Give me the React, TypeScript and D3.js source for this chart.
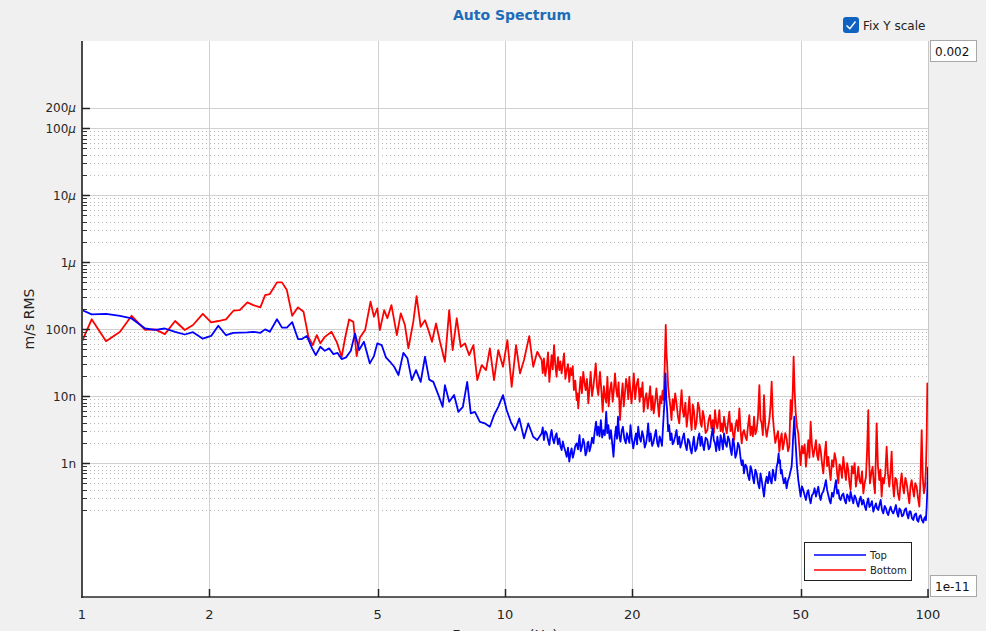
import React from "react";
import * as d3 from "d3";

// Frequencies in Hz, amplitudes in nm/s (m/s RMS × 1e9)
const topA: [number, number][] = [
  [1.0, 192], [1.054, 166], [1.14, 169], [1.23, 158], [1.31, 144], [1.41, 102], [1.49, 97], [1.57, 102],
  [1.66, 91], [1.75, 83], [1.83, 90], [1.93, 72], [2.02, 79], [2.1, 112], [2.19, 81], [2.28, 88],
  [2.46, 89], [2.54, 91], [2.64, 88], [2.71, 99], [2.78, 91], [2.89, 140], [2.97, 105], [3.05, 105],
  [3.14, 127], [3.24, 71], [3.31, 71], [3.4, 79], [3.5, 51.5], [3.57, 40.9], [3.66, 54.4], [3.75, 47.4],
  [3.84, 51.5], [3.93, 42.3], [4.02, 44.1], [4.11, 35.7], [4.21, 37.8], [4.32, 47.4], [4.42, 86.2],
  [4.52, 48.6], [4.64, 64.6], [4.79, 30.8], [4.9, 39.5], [4.99, 61.2], [5.11, 57.7], [5.23, 37.8],
  [5.35, 32.5], [5.47, 27.4], [5.6, 20.6], [5.75, 44.1], [5.88, 36.6], [6.02, 17.3], [6.16, 24.4],
  [6.32, 16.3], [6.47, 38.6], [6.62, 17.6], [6.77, 16.3], [6.96, 10.35], [7.12, 6.91], [7.21, 14.5],
  [7.38, 8.2], [7.58, 10.35], [7.76, 5.8], [7.95, 6.9], [8.14, 16.3], [8.3, 5.5], [8.49, 5.8],
  [8.72, 4.13], [8.97, 3.9], [9.21, 3.48], [9.42, 5.2], [9.64, 6.9], [9.89, 10.35], [10.09, 6.18],
  [10.32, 4.13], [10.56, 3.1], [10.81, 4.64], [11.09, 2.34], [11.35, 3.9], [11.66, 2.47], [11.92, 2.2],
];
const topB: [number, number][] = [
  [12.21, 2.78], [12.28, 3.4], [12.36, 2.2], [12.45, 3.0], [12.55, 2.78], [12.64, 2.2], [12.73, 1.86], [12.81, 2.6],
  [12.89, 3.11], [12.97, 2.3], [13.06, 1.97], [13.15, 2.5], [13.24, 2.78], [13.34, 1.9], [13.44, 2.34], [13.52, 1.8],
  [13.61, 1.56], [13.7, 2.1], [13.79, 1.75], [13.89, 1.5], [13.99, 1.24], [14.09, 1.7], [14.19, 1.05], [14.28, 1.4],
  [14.37, 1.66], [14.46, 1.2], [14.55, 1.39], [14.66, 1.8], [14.77, 1.97], [14.88, 1.6], [15.0, 2.62], [15.1, 1.5],
  [15.2, 1.75], [15.3, 2.3], [15.4, 1.97], [15.5, 1.3], [15.6, 1.47], [15.67, 2.0], [15.74, 2.08], [15.84, 1.5],
  [15.94, 1.75], [16.06, 2.4], [16.18, 1.97], [16.3, 3.0], [16.42, 4.14], [16.52, 2.6], [16.62, 3.48], [16.73, 2.5],
  [16.85, 4.38], [16.97, 2.4], [17.1, 3.11], [17.22, 2.6], [17.35, 5.83], [17.45, 2.8], [17.55, 3.69], [17.68, 2.3],
  [17.8, 3.11], [17.92, 2.0], [18.05, 1.24], [18.17, 2.4], [18.3, 3.48], [18.4, 2.3], [18.5, 4.91], [18.62, 2.6],
  [18.75, 2.08], [18.87, 3.0], [19.0, 3.48], [19.15, 2.3], [19.3, 1.97], [19.42, 2.8], [19.55, 2.34], [19.68, 2.0],
  [19.8, 3.69], [19.95, 2.3], [20.1, 1.66], [20.25, 2.2], [20.4, 2.78], [20.52, 1.9], [20.65, 3.48], [20.8, 2.4],
  [20.95, 2.08], [21.1, 3.0], [21.25, 2.47], [21.4, 1.7], [21.55, 1.97], [21.68, 2.6], [21.8, 3.91], [21.95, 2.1],
  [22.1, 2.78], [22.28, 1.8], [22.45, 2.08], [22.6, 2.6], [22.75, 3.11], [22.9, 2.0], [23.05, 1.75], [23.2, 2.5],
  [23.35, 2.2], [23.5, 1.8], [23.65, 3.69], [23.8, 7.5], [23.95, 21.8], [24.06, 9], [24.17, 6.18], [24.3, 3.0],
  [24.44, 3.69], [24.6, 2.2], [24.75, 2.78], [24.91, 1.9], [25.07, 2.08], [25.25, 2.5], [25.44, 3.11], [25.63, 1.9],
  [25.82, 2.47], [25.98, 1.7], [26.15, 1.97], [26.32, 2.4], [26.49, 2.78], [26.69, 1.9], [26.89, 1.56], [27.08, 2.3],
  [27.28, 2.08], [27.45, 1.6], [27.62, 1.39], [27.79, 1.9], [27.96, 2.47], [28.17, 1.5], [28.38, 1.66], [28.59, 2.3],
  [28.8, 2.78], [28.98, 1.8], [29.17, 2.47], [29.35, 1.9], [29.54, 1.56], [29.8, 2.4],
];
const topC: [number, number][] = [
  [30.09, 2.2], [30.31, 1.6], [30.53, 1.75], [30.75, 2.5], [30.97, 3.29], [31.17, 2.2], [31.37, 1.97], [31.57, 1.5],
  [31.77, 2.47], [31.95, 1.9], [32.12, 1.56], [32.33, 2.6], [32.53, 2.2], [32.74, 1.6], [32.95, 2.77], [33.19, 2.0],
  [33.43, 1.75], [33.67, 2.5], [33.91, 2.2], [34.13, 1.6], [34.35, 1.32], [34.57, 2.3], [34.79, 1.97], [35.04, 1.2],
  [35.29, 1.39], [35.55, 2.0], [35.81, 1.75], [36.04, 1.2], [36.27, 0.93], [36.5, 1.1], [36.73, 0.7], [37.0, 0.95],
  [37.27, 0.88], [37.54, 0.65], [37.81, 0.557], [38.05, 0.9], [38.3, 0.79], [38.55, 0.6], [38.79, 0.497], [39.07, 0.8],
  [39.35, 0.7], [39.64, 0.5], [39.93, 0.419], [40.18, 0.7], [40.44, 0.557], [40.7, 0.42], [40.95, 0.315], [41.25, 0.5],
  [41.55, 0.625], [41.85, 0.5], [42.16, 0.74], [42.43, 0.55], [42.7, 0.497], [42.97, 0.8], [43.24, 0.66], [43.55, 0.55],
  [43.87, 0.88], [44.1, 1.0], [44.35, 1.39], [44.51, 1.0], [44.67, 1.11], [44.88, 0.7], [45.09, 0.79], [45.37, 0.6],
  [45.65, 0.497], [45.98, 0.6], [46.32, 0.419], [46.66, 0.55], [47.0, 0.625], [47.3, 0.75], [47.6, 0.88], [47.78, 1.3],
  [47.95, 2.2], [48.12, 3.2], [48.3, 4.91], [48.47, 3.0], [48.65, 1.97], [49.0, 0.9], [49.36, 0.557], [49.68, 0.42],
  [49.99, 0.315], [50.35, 0.45], [50.72, 0.395], [51.09, 0.33], [51.46, 0.281], [51.79, 0.36], [52.12, 0.395], [52.45, 0.3],
  [52.79, 0.25], [53.17, 0.33], [53.56, 0.352], [53.95, 0.42], [54.34, 0.315], [54.69, 0.38], [55.04, 0.443], [55.39, 0.33],
  [55.74, 0.281], [56.15, 0.35], [56.55, 0.373], [56.96, 0.45], [57.38, 0.557], [57.74, 0.4], [58.11, 0.333], [58.48, 0.28],
  [58.86, 0.25], [59.29, 0.36], [59.72, 0.315], [60.15, 0.42], [60.59, 0.557], [60.98, 0.35], [61.37, 0.395], [61.76, 0.3],
  [62.15, 0.281], [62.6, 0.33], [63.06, 0.352], [63.52, 0.28], [63.98, 0.25], [64.39, 0.34], [64.8, 0.315], [65.21, 0.27],
  [65.62, 0.373], [66.1, 0.3], [66.58, 0.25], [67.06, 0.33], [67.55, 0.297], [67.99, 0.25], [68.43, 0.223], [68.87, 0.28],
  [69.32, 0.315], [69.83, 0.24], [70.34, 0.281], [70.84, 0.23], [71.34, 0.199], [71.8, 0.26], [72.25, 0.297], [72.7, 0.22],
  [73.18, 0.236], [73.7, 0.27], [74.25, 0.188], [74.8, 0.22], [75.34, 0.25], [75.8, 0.21], [76.3, 0.199], [76.8, 0.24],
  [77.28, 0.281], [77.85, 0.2], [78.41, 0.177], [79.0, 0.23], [79.55, 0.211], [80.05, 0.18], [80.56, 0.167], [81.07, 0.2],
  [81.59, 0.223], [82.18, 0.19], [82.78, 0.177], [83.38, 0.2], [83.99, 0.236], [84.52, 0.18], [85.06, 0.158], [85.6, 0.21],
  [86.16, 0.199], [86.8, 0.16], [87.42, 0.167], [88.06, 0.2], [88.7, 0.211], [89.27, 0.17], [89.84, 0.149], [90.42, 0.19],
  [90.99, 0.188], [91.65, 0.15], [92.32, 0.141], [93.0, 0.17], [93.67, 0.177], [94.27, 0.14], [94.87, 0.133], [95.47, 0.16],
  [96.08, 0.167], [96.78, 0.14], [97.49, 0.129], [98.0, 0.15], [98.55, 0.158], [98.9, 0.14], [99.28, 0.223], [99.64, 0.4],
  [100.0, 0.88],
];

const bottomA: [number, number][] = [
  [1.0, 65], [1.054, 140], [1.14, 66], [1.23, 91], [1.31, 158], [1.41, 97], [1.49, 99], [1.57, 84],
  [1.66, 132], [1.75, 97], [1.83, 115], [1.93, 169], [2.02, 126], [2.1, 132], [2.19, 140], [2.28, 188],
  [2.36, 192], [2.46, 250], [2.54, 228], [2.64, 211], [2.71, 322], [2.78, 333], [2.89, 498], [2.97, 498],
  [3.05, 382], [3.14, 158], [3.24, 211], [3.34, 181], [3.43, 76.5], [3.51, 57.7], [3.59, 81.3], [3.66, 61.2],
  [3.75, 76.5], [3.89, 91], [4.0, 64.6], [4.11, 38.6], [4.19, 74.9], [4.28, 139], [4.38, 128], [4.46, 39.5],
  [4.54, 74.9], [4.67, 96.6], [4.81, 256], [4.9, 153], [4.99, 204], [5.06, 96.6], [5.18, 192], [5.27, 145],
  [5.39, 228], [5.55, 81.3], [5.67, 172], [5.8, 115], [5.91, 51.5], [6.07, 128], [6.18, 311], [6.32, 108],
  [6.47, 136], [6.59, 96.6], [6.72, 64.6], [6.87, 121], [7.02, 64.6], [7.21, 32.5], [7.38, 192], [7.52, 48.6],
  [7.69, 145], [7.86, 54.4], [8.04, 61.2], [8.23, 40.9], [8.42, 57.7], [8.6, 17.3], [8.81, 29], [9.02, 24.4],
  [9.21, 51.5], [9.42, 17.3], [9.64, 48.6], [9.89, 27.4], [10.13, 68.5], [10.37, 13.7], [10.62, 57.7],
  [10.85, 21.8], [11.09, 34.5], [11.41, 78.6], [11.66, 27.4], [11.92, 45.8],
];
const bottomB: [number, number][] = [
  [12.21, 34.5], [12.28, 22], [12.36, 36.6], [12.45, 20], [12.55, 27.4], [12.64, 45], [12.73, 16.3], [12.81, 26],
  [12.89, 40.9], [12.97, 25], [13.06, 57.7], [13.15, 30], [13.24, 19.4], [13.34, 38], [13.44, 24.4], [13.52, 33],
  [13.61, 21.8], [13.7, 30], [13.79, 43.4], [13.89, 18], [13.99, 24.4], [14.09, 30], [14.19, 16.3], [14.28, 26],
  [14.37, 20.6], [14.46, 28], [14.55, 12.3], [14.66, 17], [14.77, 8.71], [14.83, 11], [14.9, 6.55], [15.0, 12],
  [15.09, 19.4], [15.2, 11], [15.31, 23.0], [15.41, 16], [15.51, 12.3], [15.62, 18], [15.74, 7.77], [15.84, 13],
  [15.94, 23.0], [16.06, 10], [16.18, 13.8], [16.28, 20], [16.39, 30.8], [16.5, 14], [16.62, 10.35], [16.7, 17],
  [16.77, 23.0], [16.9, 12], [17.02, 5.83], [17.13, 14], [17.24, 9.76], [17.35, 8], [17.46, 19.4], [17.58, 7],
  [17.71, 12.3], [17.84, 16], [17.97, 8.22], [18.08, 12], [18.2, 21.8], [18.31, 13], [18.43, 9.76], [18.56, 16],
  [18.7, 4.38], [18.83, 9], [18.97, 15.5], [19.09, 7], [19.21, 11.0], [19.33, 18], [19.46, 13.8], [19.56, 9],
  [19.67, 19.4], [19.79, 12], [19.91, 7.77], [20.03, 12], [20.16, 21.8], [20.31, 9], [20.46, 14.6], [20.63, 18],
  [20.81, 8.22], [20.91, 13], [21.01, 9.76], [21.14, 16], [21.28, 5.83], [21.43, 9], [21.59, 11.0], [21.75, 6.5],
  [21.91, 9.76], [22.04, 14], [22.18, 6.18], [22.32, 10], [22.47, 5.51], [22.63, 8], [22.8, 13.0], [22.96, 8],
  [23.13, 4.91], [23.28, 10], [23.43, 7.77], [23.58, 12], [23.73, 8.71], [23.86, 30], [23.99, 115], [24.08, 45],
  [24.17, 30.8], [24.3, 14], [24.44, 9.76], [24.6, 7], [24.75, 4.38], [24.91, 9], [25.07, 6.18], [25.25, 11],
  [25.44, 7.77], [25.63, 5], [25.82, 3.91], [25.98, 7], [26.15, 12.3], [26.32, 6], [26.49, 4.91], [26.69, 8],
  [26.89, 3.48], [27.08, 5.5], [27.28, 9.76], [27.45, 4.5], [27.62, 3.11], [27.79, 7.5], [27.96, 6.18], [28.17, 3.2],
  [28.38, 4.14], [28.59, 8], [28.8, 6.55], [28.98, 4], [29.17, 3.48], [29.35, 6], [29.54, 4.91], [29.8, 2.8],
];
const bottomC: [number, number][] = [
  [30.09, 3.11], [30.31, 4.5], [30.53, 5.2], [30.75, 3.3], [30.97, 4.38], [31.17, 2.8], [31.37, 6.18], [31.57, 4.0],
  [31.77, 3.29], [31.95, 4.5], [32.12, 6.18], [32.33, 3.0], [32.53, 3.91], [32.74, 2.9], [32.95, 4.91], [33.19, 3.5],
  [33.43, 2.77], [33.67, 4.0], [33.91, 5.84], [34.13, 3.0], [34.35, 3.91], [34.57, 2.8], [34.79, 2.2], [35.04, 3.5],
  [35.29, 4.38], [35.55, 3.0], [35.81, 6.55], [36.04, 3.2], [36.27, 1.97], [36.5, 2.8], [36.73, 3.11], [37.0, 2.5],
  [37.27, 2.2], [37.54, 3.6], [37.81, 5.2], [38.05, 2.6], [38.3, 3.48], [38.55, 2.5], [38.79, 4.91], [39.07, 2.7],
  [39.35, 3.11], [39.64, 5.0], [39.93, 14.6], [40.18, 4.5], [40.44, 3.91], [40.7, 2.6], [40.95, 10.3], [41.25, 3.5],
  [41.55, 2.47], [41.85, 3.3], [42.16, 4.38], [42.43, 7.0], [42.7, 16.4], [42.97, 5.0], [43.24, 3.11], [43.55, 2.0],
  [43.87, 2.47], [44.2, 3.0], [44.51, 1.48], [44.8, 2.2], [45.09, 2.77], [45.37, 1.6], [45.65, 1.97], [45.98, 2.8],
  [46.32, 2.33], [46.66, 1.5], [47.0, 1.75], [47.17, 4.0], [47.34, 8.72], [47.51, 4.5], [47.69, 5.84], [47.9, 12],
  [48.12, 38.6], [48.38, 12], [48.65, 5.84], [49.0, 3.5], [49.36, 2.77], [49.68, 1.6], [49.99, 0.93], [50.35, 1.8],
  [50.72, 1.39], [51.09, 1.9], [51.46, 0.88], [51.79, 1.4], [52.12, 2.2], [52.45, 1.2], [52.79, 4.14], [53.17, 1.8],
  [53.56, 1.24], [53.95, 1.6], [54.34, 2.2], [54.69, 1.3], [55.04, 1.11], [55.39, 1.9], [55.74, 1.56], [56.15, 1.0],
  [56.55, 0.7], [56.96, 1.3], [57.38, 2.08], [57.74, 0.9], [58.11, 1.24], [58.48, 0.8], [58.86, 0.557], [59.29, 1.1],
  [59.72, 0.88], [60.15, 1.4], [60.59, 1.11], [60.98, 0.7], [61.37, 0.497], [61.76, 0.95], [62.15, 0.88], [62.6, 0.6],
  [63.06, 1.24], [63.52, 0.8], [63.98, 0.557], [64.39, 1.0], [64.8, 0.79], [65.21, 0.5], [65.62, 0.395], [66.1, 0.9],
  [66.58, 0.7], [67.06, 1.0], [67.55, 0.443], [67.99, 0.6], [68.43, 0.88], [68.87, 0.55], [69.32, 0.497], [69.83, 0.75],
  [70.34, 0.352], [70.84, 0.5], [71.34, 0.625], [71.8, 1.6], [72.25, 6.18], [72.55, 1.2], [72.91, 0.497], [73.45, 0.7],
  [73.98, 0.88], [74.45, 0.5], [74.93, 0.352], [75.27, 1.2], [75.61, 3.91], [76.15, 0.9], [76.72, 0.557], [77.2, 0.8],
  [77.7, 0.315], [78.2, 0.6], [78.69, 0.497], [79.25, 0.7], [79.84, 1.75], [80.4, 0.7], [81.0, 0.443], [81.5, 0.7],
  [82.04, 1.48], [82.55, 0.5], [83.08, 0.315], [83.7, 0.6], [84.3, 0.557], [84.9, 0.35], [85.53, 0.281], [86.1, 0.5],
  [86.63, 0.7], [87.2, 0.45], [87.74, 0.352], [88.4, 0.6], [89.03, 0.497], [89.7, 0.35], [90.33, 0.25], [90.9, 0.45],
  [91.49, 0.557], [92.1, 0.4], [92.66, 0.315], [93.3, 0.5], [94.01, 0.443], [94.7, 0.3], [95.39, 0.223], [96.0, 0.6],
  [96.61, 3.11], [97.2, 0.6], [97.84, 0.352], [98.4, 0.45], [98.91, 0.88], [99.3, 2.5], [99.64, 15.5], [100.0, 14.6],
];

const seriesNames = ["Top", "Bottom"];
const seriesColors = ["#0000ff", "#ff0000"];

const xTicks = [1, 2, 5, 10, 20, 50, 100];
const xTickLabels = ["1", "2", "5", "10", "20", "50", "100"];
const xGrid = [2, 5, 10, 20, 50];
const yMajor = [2e-4, 1e-4, 1e-5, 1e-6, 1e-7, 1e-8, 1e-9];
const yMajorNum = ["200", "100", "10", "1", "100", "10", "1"];
const yMajorUnit = ["μ", "μ", "μ", "μ", "n", "n", "n"];
const yMinorDecades = [-10, -9, -8, -7, -6, -5];
const yMinorMult = [2, 3, 4, 5, 6, 7, 8, 9];
const yTopLimit = "0.002";
const yBottomLimit = "1e-11";

const FONT = "'DejaVu Sans', sans-serif";

export default function App() {
  const L = 82, R = 928, T = 41, B = 597;
  const x = d3.scaleLog().domain([1, 100]).range([L, R]);
  const y = d3.scaleLog().domain([1e-11, 2e-3]).range([B, T]);
  const line = d3
    .line<[number, number]>()
    .x((d) => x(d[0]))
    .y((d) => y(d[1] * 1e-9));

  const top = [...topA, ...topB, ...topC];
  const bottom = [...bottomA, ...bottomB, ...bottomC];

  const minor: number[] = [];
  yMinorDecades.forEach((k) => yMinorMult.forEach((m) => minor.push(m * Math.pow(10, k))));

  return (
    <div style={{ position: "absolute", left: 0, top: 0 }}>
      <svg width={986} height={631} style={{ display: "block" }} fontFamily={FONT}>
        <rect x={0} y={0} width={986} height={631} fill="#f0f0f0" />
        <defs>
          <clipPath id="plotclip">
            <rect x={L} y={T} width={R - L} height={B - T} />
          </clipPath>
        </defs>
        <rect x={L} y={T} width={R - L} height={B - T} fill="#ffffff" />

        {/* minor dotted grid */}
        {minor.map((v, i) => (
          <line key={"mn" + i} x1={L} x2={R} y1={Math.round(y(v)) + 0.5} y2={Math.round(y(v)) + 0.5}
            stroke="#b8b8b8" strokeWidth={1} strokeDasharray="1 3" />
        ))}
        {/* major grid */}
        {yMajor.map((v, i) => (
          <line key={"mj" + i} x1={L} x2={R} y1={Math.round(y(v)) + 0.5} y2={Math.round(y(v)) + 0.5}
            stroke="#d0d0d0" strokeWidth={1} />
        ))}
        {xGrid.map((v, i) => (
          <line key={"xg" + i} x1={Math.round(x(v)) + 0.5} x2={Math.round(x(v)) + 0.5} y1={T} y2={B}
            stroke="#d0d0d0" strokeWidth={1} />
        ))}
        <line x1={R + 0.5} x2={R + 0.5} y1={T} y2={B} stroke="#c8c8c8" strokeWidth={1} />

        {/* data */}
        <g clipPath="url(#plotclip)" fill="none" strokeLinejoin="round">
          <path d={line(bottom) || ""} stroke={seriesColors[1]} strokeWidth={1.8} />
          <path d={line(top) || ""} stroke={seriesColors[0]} strokeWidth={1.8} />
        </g>

        {/* axes */}
        <line x1={L} x2={L} y1={T} y2={B + 1} stroke="#4a4a4a" strokeWidth={2} />
        <line x1={L - 1} x2={R + 1} y1={B} y2={B} stroke="#2a2a2a" strokeWidth={1.5} />
        {minor.map((v, i) => (
          <line key={"mt" + i} x1={L} x2={L + 5} y1={Math.round(y(v)) + 0.5} y2={Math.round(y(v)) + 0.5}
            stroke="#333" strokeWidth={1} />
        ))}
        {yMajor.map((v, i) => (
          <g key={"yt" + i}>
            <line x1={L} x2={L + 8} y1={Math.round(y(v)) + 0.5} y2={Math.round(y(v)) + 0.5} stroke="#222" strokeWidth={1.5} />
            <text x={L - 6} y={y(v) + 4.5} textAnchor="end" fontSize={12} fill="#262626">
              {yMajorNum[i]}
              {yMajorUnit[i] === "μ" ? <tspan fontStyle="italic">{yMajorUnit[i]}</tspan> : yMajorUnit[i]}
            </text>
          </g>
        ))}
        {xTicks.map((v, i) => (
          <g key={"xt" + i}>
            {i > 0 && i < xTicks.length - 1 ? (
              <line x1={Math.round(x(v)) + 0.5} x2={Math.round(x(v)) + 0.5} y1={B - 8} y2={B} stroke="#222" strokeWidth={1.5} />
            ) : i === xTicks.length - 1 ? (
              <line x1={R} x2={R} y1={B - 8} y2={B} stroke="#222" strokeWidth={1.5} />
            ) : null}
            <text x={x(v)} y={619} textAnchor="middle" fontSize={13} fill="#262626">
              {xTickLabels[i]}
            </text>
          </g>
        ))}

        {/* titles */}
        <text x={512} y={20} textAnchor="middle" fontSize={14} fontWeight="bold" fill="#1c6cb8">
          Auto Spectrum
        </text>
        <text transform="translate(34,319) rotate(-90)" textAnchor="middle" fontSize={14} fill="#262626">
          m/s RMS
        </text>
        <text x={505} y={640} textAnchor="middle" fontSize={14} fill="#262626">
          Frequency (Hz)
        </text>

        {/* checkbox */}
        <rect x={843} y={17} width={16} height={16} rx={3} fill="#0f62c2" />
        <path d="M846.5,25.5 L849.8,28.6 L855.5,21.5" fill="none" stroke="#ffffff" strokeWidth={1.4} />
        <text x={863} y={30} fontSize={12} fill="#222">Fix Y scale</text>

        {/* limit boxes */}
        <rect x={930.5} y={40.5} width={46} height={21} fill="#ffffff" stroke="#a8a8a8" />
        <text x={935} y={56} fontSize={12} fill="#111">{yTopLimit}</text>
        <rect x={930.5} y={575.5} width={46} height={21} fill="#ffffff" stroke="#a8a8a8" />
        <text x={935} y={591} fontSize={12} fill="#111">{yBottomLimit}</text>

        {/* legend */}
        <rect x={804.5} y={542.5} width={107} height={38} fill="#ffffff" stroke="#222" strokeWidth={1} />
        {seriesNames.map((n, i) => (
          <g key={"lg" + i}>
            <line x1={814} x2={866} y1={555 + i * 15} y2={555 + i * 15} stroke={seriesColors[i]} strokeWidth={1.7} />
            <text x={870} y={558.5 + i * 15} fontSize={10} fill="#222">{n}</text>
          </g>
        ))}
      </svg>
    </div>
  );
}
